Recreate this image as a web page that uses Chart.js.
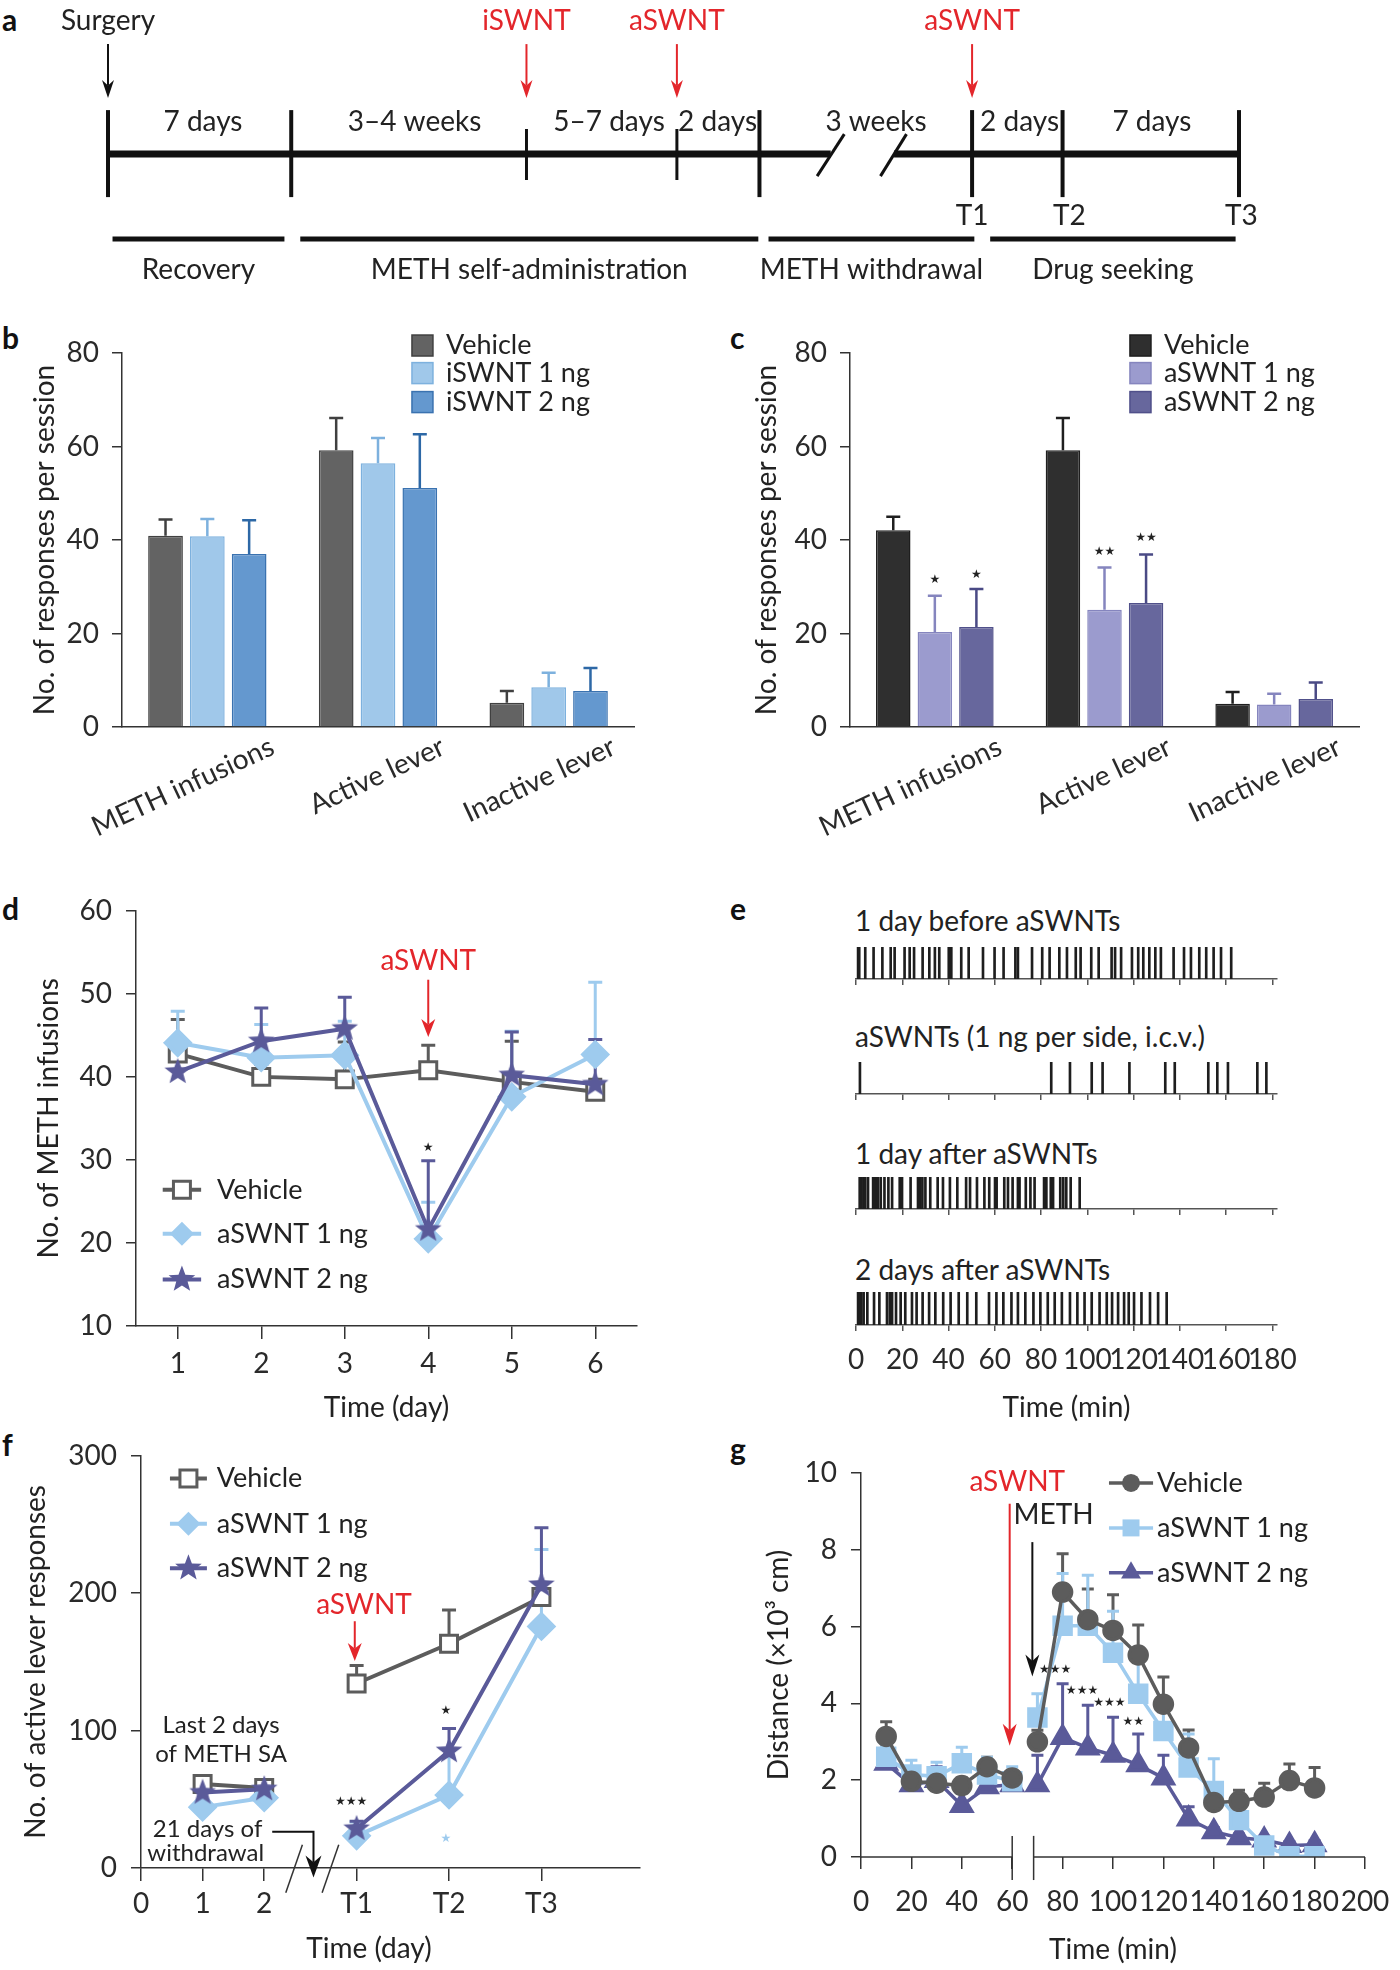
<!DOCTYPE html>
<html lang="en">
<head>
<meta charset="UTF-8">
<title>aSWNT and METH self-administration</title>
<script src="https://cdn.jsdelivr.net/npm/chart.js"></script>
<style>
  body { margin: 0; background: #fff; width: 1400px; height: 1970px; position: relative; overflow: hidden;
         font-family: Lato, "Open Sans", "DejaVu Sans", sans-serif; color: #222; }
  .panel { position: absolute; }
  .letter { position: absolute; font-weight: bold; font-size: 30px; line-height: 34px; color: #111; }
  .rowlabel { position: absolute; font-size: 28px; line-height: 34px; color: #222; white-space: nowrap; }
</style>
</head>
<body>

<div class="letter" style="left:2px;top:2px">a</div>
<div class="letter" style="left:2px;top:320px">b</div>
<div class="letter" style="left:730px;top:320px">c</div>
<div class="letter" style="left:2px;top:891px">d</div>
<div class="letter" style="left:730px;top:891px">e</div>
<div class="letter" style="left:2px;top:1427px">f</div>
<div class="letter" style="left:730px;top:1431px">g</div>

<div class="panel" style="left:0;top:0"><canvas id="chartA" width="1400" height="300"></canvas></div>
<div class="panel" style="left:0;top:320px"><canvas id="chartB" width="660" height="560"></canvas></div>
<div class="panel" style="left:722px;top:320px"><canvas id="chartC" width="678" height="560"></canvas></div>
<div class="panel" style="left:0;top:880px"><canvas id="chartD" width="680" height="560"></canvas></div>

<div class="rowlabel" style="left:855px;top:903px">1 day before aSWNTs</div>
<div class="rowlabel" style="left:855px;top:1019px">aSWNTs (1 ng per side, i.c.v.)</div>
<div class="rowlabel" style="left:855px;top:1136px">1 day after aSWNTs</div>
<div class="rowlabel" style="left:855px;top:1252px">2 days after aSWNTs</div>
<div class="panel" style="left:832px;top:943px"><canvas id="chartE1" width="490" height="48"></canvas></div>
<div class="panel" style="left:832px;top:1058px"><canvas id="chartE2" width="490" height="48"></canvas></div>
<div class="panel" style="left:832px;top:1173px"><canvas id="chartE3" width="490" height="48"></canvas></div>
<div class="panel" style="left:832px;top:1288px"><canvas id="chartE4" width="490" height="152"></canvas></div>

<div class="panel" style="left:0;top:1425px"><canvas id="chartF" width="680" height="545"></canvas></div>
<div class="panel" style="left:735px;top:1440px"><canvas id="chartG" width="675" height="530"></canvas></div>

<script>
// ---- panel a: experiment timeline (schematic units 0-100) ----
const timelineMarks = [0, 16.2, 57.6, 76.4, 84.4, 100];
const injectionMarks = [37.0, 50.3];
const periodLabels = ['7 days', '3–4 weeks', '5–7 days', '2 days', '3 weeks', '2 days', '7 days'];
const periodPos = [8.4, 27.1, 44.3, 53.9, 67.9, 80.6, 92.3];
const eventLabels = ['Surgery', 'iSWNT', 'aSWNT', 'aSWNT'];
const eventPos = [0, 37.0, 50.3, 76.4];
const testLabels = ['T1', 'T2', 'T3'];
const testPos = [76.4, 85.0, 100.2];
const phaseLabels = ['Recovery', 'METH self-administration', 'METH withdrawal', 'Drug seeking'];
const phaseStart = [0.4, 17.0, 58.4, 78.0];
const phaseEnd = [15.6, 57.5, 76.6, 99.7];

// ---- panels b, c: responses per session ----
const leverCategories = ['METH infusions', 'Active lever', 'Inactive lever'];
const bVehicle = [40.9, 59.2, 5.2];
const bVehicleSem = [3.5, 6.9, 2.5];
const bIswnt1 = [40.8, 56.4, 8.5];
const bIswnt1Sem = [3.7, 5.4, 3.1];
const bIswnt2 = [37.0, 51.1, 7.7];
const bIswnt2Sem = [7.2, 11.5, 4.9];

const cVehicle = [42.1, 59.2, 5.0];
const cVehicleSem = [2.9, 6.9, 2.5];
const cAswnt1 = [20.3, 25.1, 4.8];
const cAswnt1Sem = [7.8, 9.0, 2.3];
const cAswnt2 = [21.4, 26.5, 6.0];
const cAswnt2Sem = [8.1, 10.4, 3.5];

// ---- panel d: METH infusions per day ----
const dDays = [1, 2, 3, 4, 5, 6];
const dVehicle = [42.8, 40.0, 39.7, 40.8, 39.4, 38.2];
const dVehicleSem = [4.1, 1.5, 4.5, 3.0, 4.9, 1.5];
const dAswnt1 = [44.1, 42.3, 42.6, 20.5, 37.6, 42.7];
const dAswnt1Sem = [3.8, 4.0, 4.1, 4.4, 7.9, 8.7];
const dAswnt2 = [40.6, 44.3, 45.8, 21.6, 40.2, 39.1];
const dAswnt2Sem = [3.7, 4.0, 3.8, 8.3, 5.2, 5.4];

// ---- panel e: infusion event times (min) ----
const eTicks = [0, 20, 40, 60, 80, 100, 120, 140, 160, 180];
const eBefore = [0.9, 1.4, 4.0, 7.6, 11.4, 15.0, 16.7, 21.0, 23.2, 25.1, 28.8, 31.7, 34.1, 36.0, 40.1, 41.2,
  45.5, 48.7, 54.9, 59.9, 63.8, 68.9, 70.0, 76.1, 80.5, 83.7, 87.9, 91.2, 95.0, 97.1, 101.7, 104.9, 110.5,
  112.0, 114.6, 119.3, 122.0, 124.2, 126.8, 129.4, 131.8, 137.3, 141.8, 144.8, 148.4, 151.4, 154.6, 157.8, 162.2];
const eInjection = [1.7, 84.4, 92.5, 101.9, 106.6, 118.2, 133.7, 137.8, 152.3, 156.2, 160.8, 173.5, 177.4];
const eAfter1 = [1.6, 2.3, 3.2, 4.0, 5.2, 7.4, 7.9, 8.5, 9.1, 9.5, 10.7, 12.3, 14.0, 15.6, 18.9, 19.9, 23.6,
  26.8, 27.7, 28.7, 30.0, 32.1, 35.3, 37.6, 40.6, 43.8, 47.6, 49.3, 52.3, 55.5, 57.6, 60.1, 60.8, 64.1, 65.7,
  67.7, 70.0, 70.7, 73.4, 75.4, 77.2, 81.3, 81.8, 82.3, 84.2, 84.6, 85.2, 88.3, 89.6, 90.9, 92.8, 96.7];
const eAfter2 = [0.9, 1.6, 2.3, 3.3, 4.9, 7.8, 10.1, 13.4, 14.6, 15.6, 17.3, 19.3, 21.3, 24.2, 26.2, 28.8,
  31.6, 34.3, 37.7, 40.9, 44.4, 48.1, 52.0, 57.5, 60.7, 63.7, 67.2, 70.0, 73.2, 76.7, 79.7, 82.9, 85.9, 89.0,
  92.5, 95.7, 98.8, 101.9, 105.3, 108.4, 110.7, 113.3, 115.9, 117.9, 120.2, 123.4, 127.1, 130.6, 134.3];

// ---- panel f: active lever responses ----
const fTickValues = [0, 1, 2, 3.5, 5, 6.5];
const fTickLabels = ['0', '1', '2', 'T1', 'T2', 'T3'];
const fSessions = [1, 2, 3.5, 5, 6.5];
const fVehicle = [61.2, 58.2, 134.3, 163.2, 197.2];
const fVehicleSem = [3, 3, 13.1, 24.5, 10];
const fAswnt1 = [44.3, 51.1, 23.4, 53.1, 175.8];
const fAswnt1Sem = [3, 3, 10.1, 33, 56];
const fAswnt2 = [54.9, 57.4, 28.5, 85.1, 206];
const fAswnt2Sem = [3, 3, 5.5, 16.4, 41.6];

// ---- panel g: locomotor distance (x10^3 cm) ----
const gTimes = [10, 20, 30, 40, 50, 60, 70, 80, 90, 100, 110, 120, 130, 140, 150, 160, 170, 180];
const gVehicle = [3.14, 1.97, 1.92, 1.86, 2.35, 2.06, 3.0, 6.9, 6.18, 5.9, 5.26, 3.98, 2.84, 1.42, 1.45, 1.56, 1.99, 1.80];
const gVehicleSem = [0.38, 0.2, 0.2, 0.2, 0.25, 0.2, 0.3, 1.0, 0.8, 0.93, 0.78, 0.71, 0.47, 0.2, 0.29, 0.36, 0.43, 0.53];
const gAswnt1 = [2.61, 2.15, 2.10, 2.44, 2.15, 1.97, 3.63, 6.02, 6.02, 5.32, 4.25, 3.28, 2.33, 1.72, 0.96, 0.3, 0.02, 0.02];
const gAswnt1Sem = [0.27, 0.37, 0.37, 0.42, 0.45, 0.38, 0.62, 1.36, 1.32, 1.08, 0.98, 0.76, 0.87, 0.84, 0.47, 0.1, 0.05, 0.05];
const gAswnt2 = [2.44, 1.88, 1.99, 1.34, 1.83, 1.88, 1.88, 3.11, 2.84, 2.65, 2.40, 2.06, 0.99, 0.66, 0.50, 0.44, 0.30, 0.32];
const gAswnt2Sem = [0.2, 0.1, 0.36, 0.1, 0.41, 0.1, 0.77, 1.4, 1.11, 0.99, 0.8, 0.59, 0.32, 0.1, 0.1, 0.1, 0.1, 0.1];

// colours
const GRAY = '#5c5c5c';
const LIGHT = '#9ecbee';
const PURPLE = '#5a5a99';
const RED = '#e3262b';
const FONT = 'Lato, "Open Sans", "DejaVu Sans", sans-serif';
const LEGEND_SIZE = 27;

Chart.defaults.font.family = FONT;
Chart.defaults.font.size = 28;
Chart.defaults.color = '#2a2a2a';
Chart.defaults.animation = false;
Chart.defaults.plugins.legend.display = false;
Chart.defaults.plugins.tooltip.enabled = false;

// marker shapes used for legends and the filled star points
function drawMarker(ctx, style, x, y, r, fill, stroke, bw) {
  ctx.save();
  ctx.beginPath();
  if (style === 'rect') {
    const s = r * Math.SQRT1_2;
    ctx.rect(x - s, y - s, 2 * s, 2 * s);
  } else if (style === 'rectRot') {
    ctx.moveTo(x, y - r); ctx.lineTo(x + r, y); ctx.lineTo(x, y + r); ctx.lineTo(x - r, y); ctx.closePath();
  } else if (style === 'circle') {
    ctx.arc(x, y, r, 0, Math.PI * 2);
  } else {
    const n = style === 'triangle' ? 3 : 10;
    for (let k = 0; k < n; k++) {
      const a = k * 2 * Math.PI / n;
      const rr = (style === 'star5' && k % 2) ? r * 0.42 : r;
      const px = x + Math.sin(a) * rr, py = y - Math.cos(a) * rr;
      if (k) ctx.lineTo(px, py); else ctx.moveTo(px, py);
    }
    ctx.closePath();
  }
  if (fill) { ctx.fillStyle = fill; ctx.fill(); }
  if (stroke && bw) { ctx.strokeStyle = stroke; ctx.lineWidth = bw; ctx.stroke(); }
  ctx.restore();
}

function markerImage(style, r, fill) {
  const c = document.createElement('canvas');
  const size = Math.ceil(2 * r + 2);
  c.width = size; c.height = size;
  drawMarker(c.getContext('2d'), style, size / 2, size / 2, r, fill);
  return c;
}

// one-sided (upward) SEM bars, drawn behind the marks
const errorBars = {
  id: 'errorBars',
  beforeDatasetsDraw(chart) {
    const ctx = chart.ctx, sy = chart.scales.y;
    chart.data.datasets.forEach((ds, di) => {
      if (!ds.errColor) return;
      chart.getDatasetMeta(di).data.forEach((el, i) => {
        const raw = ds.data[i];
        const v = typeof raw === 'number' ? raw : raw && raw.y;
        const s = ds.sem ? ds.sem[i] : raw && raw.sem;
        if (v == null || s == null) return;
        const y0 = sy.getPixelForValue(v), y1 = sy.getPixelForValue(v + s);
        const cap = ds.errCap || 7;
        ctx.save();
        ctx.strokeStyle = ds.errColor;
        ctx.lineWidth = ds.errWidth || 3;
        ctx.beginPath();
        ctx.moveTo(el.x, y0); ctx.lineTo(el.x, y1);
        ctx.moveTo(el.x - cap, y1); ctx.lineTo(el.x + cap, y1);
        ctx.stroke();
        ctx.restore();
      });
    });
  }
};
Chart.register(errorBars);

// annotations placed in data coordinates
function overlay(items) {
  return {
    id: 'overlay',
    afterDatasetsDraw(chart) {
      const ctx = chart.ctx, sx = chart.scales.x, sy = chart.scales.y;
      const X = v => sx.getPixelForValue(v), Y = v => sy.getPixelForValue(v);
      items.forEach(it => {
        ctx.save();
        if (it.type === 'seg') {
          ctx.strokeStyle = it.color || '#111';
          ctx.lineWidth = it.width || 2;
          ctx.beginPath(); ctx.moveTo(X(it.x1), Y(it.y1)); ctx.lineTo(X(it.x2), Y(it.y2)); ctx.stroke();
        } else if (it.type === 'arrow') {
          const p = it.pts.map(q => [X(q[0]), Y(q[1])]);
          const h = it.head || 18, w = it.headW || 6, n = p.length;
          const [ax, ay] = p[n - 2], [bx, by] = p[n - 1];
          const ang = Math.atan2(by - ay, bx - ax);
          const ex = bx - Math.cos(ang) * h, ey = by - Math.sin(ang) * h;
          const nx = bx - Math.cos(ang) * h * 0.7, ny = by - Math.sin(ang) * h * 0.7;
          ctx.strokeStyle = it.color; ctx.lineWidth = it.width || 2;
          ctx.beginPath(); ctx.moveTo(p[0][0], p[0][1]);
          for (let k = 1; k < n - 1; k++) ctx.lineTo(p[k][0], p[k][1]);
          ctx.lineTo(nx, ny); ctx.stroke();
          ctx.fillStyle = it.color; ctx.beginPath();
          ctx.moveTo(bx, by);
          ctx.lineTo(ex - Math.sin(ang) * w, ey + Math.cos(ang) * w);
          ctx.lineTo(nx, ny);
          ctx.lineTo(ex + Math.sin(ang) * w, ey - Math.cos(ang) * w);
          ctx.closePath(); ctx.fill();
        } else if (it.type === 'text') {
          ctx.font = (it.weight || 'normal') + ' ' + (it.size || 28) + 'px ' + FONT;
          ctx.fillStyle = it.color || '#222';
          ctx.textAlign = it.align || 'center';
          ctx.textBaseline = 'middle';
          ctx.fillText(it.text, X(it.x), Y(it.y));
        } else if (it.type === 'legend') {
          const y = Y(it.y), x1 = X(it.x1), x2 = X(it.x2);
          ctx.strokeStyle = it.color; ctx.lineWidth = it.lw || 4;
          ctx.beginPath(); ctx.moveTo(x1, y); ctx.lineTo(x2, y); ctx.stroke();
          drawMarker(ctx, it.style, (x1 + x2) / 2, y, it.r, it.fill, it.stroke, it.bw);
          ctx.font = LEGEND_SIZE + 'px ' + FONT; ctx.fillStyle = '#222';
          ctx.textAlign = 'left'; ctx.textBaseline = 'middle';
          ctx.fillText(it.text, X(it.xt), y);
        } else if (it.type === 'swatch') {
          const y = Y(it.y), x1 = X(it.x1), s = X(it.x2) - x1;
          ctx.fillStyle = it.fill; ctx.fillRect(x1, y - s / 2, s, s);
          ctx.strokeStyle = it.stroke; ctx.lineWidth = 1.5; ctx.strokeRect(x1, y - s / 2, s, s);
          ctx.font = LEGEND_SIZE + 'px ' + FONT; ctx.fillStyle = '#222';
          ctx.textAlign = 'left'; ctx.textBaseline = 'middle';
          ctx.fillText(it.text, X(it.xt), y);
        }
        ctx.restore();
      });
    }
  };
}

function series(xs, ys, sems, gapAfter) {
  const out = [];
  xs.forEach((x, i) => {
    out.push({ x: x, y: ys[i], sem: sems[i] });
    if (i === gapAfter) out.push({ x: (x + xs[i + 1]) / 2, y: null });
  });
  return out;
}

function yAxis(min, max, step, title, width, pad) {
  return {
    type: 'linear', min: min, max: max,
    ticks: { stepSize: step, padding: pad, color: '#2a2a2a' },
    grid: { drawOnChartArea: false, tickLength: 10, color: '#333', lineWidth: 1.5 },
    border: { color: '#333', width: 1.5 },
    title: { display: true, text: title, color: '#222', padding: { top: 4, bottom: 0 } },
    afterFit: s => { s.width = width; }
  };
}

// ---------- panel a ----------
const TL_Y = 51.3;
const aItems = [];
timelineMarks.forEach(x => aItems.push({ type: 'seg', x1: x, y1: 36.7, x2: x, y2: 65.7, width: 4 }));
injectionMarks.forEach(x => aItems.push({ type: 'seg', x1: x, y1: 43, x2: x, y2: 60, width: 3 }));
aItems.push({ type: 'seg', x1: 62.7, y1: 58.7, x2: 65.1, y2: 44.7, width: 3 });
aItems.push({ type: 'seg', x1: 68.3, y1: 58.7, x2: 70.6, y2: 44.7, width: 3 });
periodLabels.forEach((t, i) => aItems.push({ type: 'text', x: periodPos[i], y: 40.6, text: t }));
eventLabels.forEach((t, i) => {
  const col = i === 0 ? '#111' : RED;
  aItems.push({ type: 'text', x: eventPos[i], y: 7, text: t, color: i === 0 ? '#222' : RED });
  aItems.push({ type: 'arrow', pts: [[eventPos[i], 14.7], [eventPos[i], 32.7]], color: col, width: 2, head: 18, headW: 6 });
});
testLabels.forEach((t, i) => aItems.push({ type: 'text', x: testPos[i], y: 72, text: t }));
phaseLabels.forEach((t, i) => {
  aItems.push({ type: 'seg', x1: phaseStart[i], y1: 79.7, x2: phaseEnd[i], y2: 79.7, width: 5 });
  aItems.push({ type: 'text', x: (phaseStart[i] + phaseEnd[i]) / 2, y: 90, text: t });
});

new Chart(document.getElementById('chartA'), {
  type: 'line',
  data: {
    datasets: [
      { data: [{ x: timelineMarks[0], y: TL_Y }, { x: 63.9, y: TL_Y }], borderColor: '#111', borderWidth: 7, pointRadius: 0 },
      { data: [{ x: 69.5, y: TL_Y }, { x: timelineMarks[timelineMarks.length - 1], y: TL_Y }], borderColor: '#111', borderWidth: 7, pointRadius: 0 }
    ]
  },
  options: {
    responsive: false,
    layout: { padding: { left: 108, right: 161, top: 0, bottom: 0 } },
    scales: {
      x: { type: 'linear', min: 0, max: 100, display: false },
      y: { type: 'linear', min: 0, max: 100, reverse: true, display: false }
    }
  },
  plugins: [overlay(aItems)]
});

// ---------- panels b and c ----------
function barPanel(id, sets, ywidth, rightPad, items) {
  return new Chart(document.getElementById(id), {
    type: 'bar',
    data: {
      labels: leverCategories,
      datasets: sets.map(s => ({
        label: s.label, data: s.data, sem: s.sem,
        backgroundColor: s.fill, borderColor: s.stroke, borderWidth: 1.5,
        errColor: s.err, errCap: 7, errWidth: 2.5,
        categoryPercentage: 0.735, barPercentage: 0.83
      }))
    },
    options: {
      responsive: false,
      layout: { padding: { left: 24, top: 33, right: rightPad, bottom: 0 } },
      scales: {
        x: {
          grid: { drawOnChartArea: false, drawTicks: false },
          border: { color: '#333', width: 1.5 },
          ticks: { minRotation: 25, maxRotation: 25, labelOffset: 65, padding: 3, autoSkip: false, color: '#2a2a2a' },
          afterFit: s => { s.height = 153; }
        },
        y: yAxis(0, 80, 20, 'No. of responses per session', ywidth, 13)
      }
    },
    plugins: [overlay(items)]
  });
}

barPanel('chartB', [
  { label: 'Vehicle', data: bVehicle, sem: bVehicleSem, fill: '#636363', stroke: '#404040', err: '#404040' },
  { label: 'iSWNT 1 ng', data: bIswnt1, sem: bIswnt1Sem, fill: '#a0c8ea', stroke: '#7db1de', err: '#7db1de' },
  { label: 'iSWNT 2 ng', data: bIswnt2, sem: bIswnt2Sem, fill: '#6498cf', stroke: '#3a72b0', err: '#2d68a6' }
], 98, 26, [
  { type: 'swatch', x1: 1.199, x2: 1.322, xt: 1.398, y: 81.6, text: 'Vehicle', fill: '#636363', stroke: '#404040' },
  { type: 'swatch', x1: 1.199, x2: 1.322, xt: 1.398, y: 75.7, text: 'iSWNT 1 ng', fill: '#a0c8ea', stroke: '#7db1de' },
  { type: 'swatch', x1: 1.199, x2: 1.322, xt: 1.398, y: 69.5, text: 'iSWNT 2 ng', fill: '#6498cf', stroke: '#3a72b0' }
]);

barPanel('chartC', [
  { label: 'Vehicle', data: cVehicle, sem: cVehicleSem, fill: '#2f2f2f', stroke: '#1f1f1f', err: '#1f1f1f' },
  { label: 'aSWNT 1 ng', data: cAswnt1, sem: cAswnt1Sem, fill: '#9b9bce', stroke: '#8585be', err: '#8585be' },
  { label: 'aSWNT 2 ng', data: cAswnt2, sem: cAswnt2Sem, fill: '#67679d', stroke: '#50508a', err: '#4a4a85' }
], 104, 41, [
  { type: 'swatch', x1: 1.15, x2: 1.274, xt: 1.35, y: 81.6, text: 'Vehicle', fill: '#2f2f2f', stroke: '#1f1f1f' },
  { type: 'swatch', x1: 1.15, x2: 1.274, xt: 1.35, y: 75.7, text: 'aSWNT 1 ng', fill: '#9b9bce', stroke: '#8585be' },
  { type: 'swatch', x1: 1.15, x2: 1.274, xt: 1.35, y: 69.5, text: 'aSWNT 2 ng', fill: '#67679d', stroke: '#50508a' },
  { type: 'text', x: 0, y: 31.6, text: '★', size: 12 },
  { type: 'text', x: 0.245, y: 32.7, text: '★', size: 12 },
  { type: 'text', x: 1, y: 37.7, text: '★★', size: 12 },
  { type: 'text', x: 1.245, y: 40.7, text: '★★', size: 12 }
]);

// ---------- panel d ----------
const starImg = markerImage('star5', 14, PURPLE);
new Chart(document.getElementById('chartD'), {
  type: 'line',
  data: {
    datasets: [
      { label: 'Vehicle', data: series(dDays, dVehicle, dVehicleSem), borderColor: GRAY, borderWidth: 4,
        pointStyle: 'rect', pointRadius: 12, pointBackgroundColor: '#fff', pointBorderColor: GRAY, pointBorderWidth: 3,
        errColor: GRAY, order: 3 },
      { label: 'aSWNT 1 ng', data: series(dDays, dAswnt1, dAswnt1Sem), borderColor: LIGHT, borderWidth: 4,
        pointStyle: 'rectRot', pointRadius: 12, pointBackgroundColor: LIGHT, pointBorderColor: LIGHT,
        errColor: LIGHT, order: 2 },
      { label: 'aSWNT 2 ng', data: series(dDays, dAswnt2, dAswnt2Sem), borderColor: PURPLE, borderWidth: 4,
        pointStyle: starImg, pointRadius: 14, errColor: PURPLE, order: 1 }
    ]
  },
  options: {
    responsive: false,
    layout: { padding: { left: 28, top: 28, right: 43, bottom: 0 } },
    scales: {
      x: {
        type: 'linear', min: 0.5, max: 6.5,
        afterBuildTicks: s => { s.ticks = dDays.map(v => ({ value: v })); },
        ticks: { padding: 8, autoSkip: false, maxRotation: 0, minRotation: 0, color: '#2a2a2a' },
        grid: { drawOnChartArea: false, tickLength: 13, color: '#333', lineWidth: 1.5 },
        border: { color: '#333', width: 1.5 },
        title: { display: true, text: 'Time (day)', color: '#222', padding: { top: 0, bottom: 15 } },
        afterFit: s => { s.height = 114; }
      },
      y: yAxis(10, 60, 10, 'No. of METH infusions', 108, 14)
    }
  },
  plugins: [overlay([
    { type: 'text', x: 4, y: 54.0, text: 'aSWNT', color: RED },
    { type: 'arrow', pts: [[4, 51.7], [4, 44.8]], color: RED, width: 2, head: 18, headW: 7 },
    { type: 'text', x: 4, y: 31.5, text: '★', size: 12 },
    { type: 'legend', x1: 0.82, x2: 1.28, xt: 1.47, y: 26.4, text: 'Vehicle', color: GRAY, style: 'rect', r: 12, fill: '#fff', stroke: GRAY, bw: 3 },
    { type: 'legend', x1: 0.82, x2: 1.28, xt: 1.47, y: 21.1, text: 'aSWNT 1 ng', color: LIGHT, style: 'rectRot', r: 12, fill: LIGHT },
    { type: 'legend', x1: 0.82, x2: 1.28, xt: 1.47, y: 15.6, text: 'aSWNT 2 ng', color: PURPLE, style: 'star5', r: 14, fill: PURPLE }
  ])]
});

// ---------- panel e ----------
function rasterChart(id, events, last) {
  return new Chart(document.getElementById(id), {
    type: 'bar',
    data: { datasets: [{ data: events.map(t => ({ x: t, y: 1 })), backgroundColor: '#1e1e1e', barThickness: 2, borderWidth: 0 }] },
    options: {
      responsive: false,
      layout: { padding: { left: 24, right: 45, top: 4, bottom: 0 } },
      scales: {
        x: {
          type: 'linear', min: 0, max: 182, offset: false,
          afterBuildTicks: s => { s.ticks = eTicks.map(v => ({ value: v })); },
          grid: { drawOnChartArea: false, drawTicks: true, tickLength: 6, color: '#555', offset: false, lineWidth: 1.5 },
          border: { color: '#555', width: 1.5 },
          ticks: { display: last, autoSkip: false, maxRotation: 0, minRotation: 0, padding: 12, color: '#2a2a2a' },
          title: { display: last, text: 'Time (min)', color: '#222', padding: { top: 0, bottom: 15 } },
          afterFit: s => { s.height = last ? 115 : 12; }
        },
        y: { display: false, min: 0, max: 1 }
      }
    }
  });
}
rasterChart('chartE1', eBefore, false);
rasterChart('chartE2', eInjection, false);
rasterChart('chartE3', eAfter1, false);
rasterChart('chartE4', eAfter2, true);

// ---------- panel f ----------
const starImgF = markerImage('star5', 14, PURPLE);
new Chart(document.getElementById('chartF'), {
  type: 'line',
  data: {
    datasets: [
      { label: 'Vehicle', data: series(fSessions, fVehicle, fVehicleSem, 1), borderColor: GRAY, borderWidth: 4,
        pointStyle: 'rect', pointRadius: 12, pointBackgroundColor: '#fff', pointBorderColor: GRAY, pointBorderWidth: 3,
        errColor: GRAY, order: 3 },
      { label: 'aSWNT 1 ng', data: series(fSessions, fAswnt1, fAswnt1Sem, 1), borderColor: LIGHT, borderWidth: 4,
        pointStyle: 'rectRot', pointRadius: 12, pointBackgroundColor: LIGHT, pointBorderColor: LIGHT,
        errColor: LIGHT, order: 2 },
      { label: 'aSWNT 2 ng', data: series(fSessions, fAswnt2, fAswnt2Sem, 1), borderColor: PURPLE, borderWidth: 4,
        pointStyle: starImgF, pointRadius: 14, errColor: PURPLE, order: 1 }
    ]
  },
  options: {
    responsive: false,
    layout: { padding: { left: 15, top: 25, right: 40, bottom: 0 } },
    scales: {
      x: {
        type: 'linear', min: 0, max: 8.1,
        afterBuildTicks: s => { s.ticks = fTickValues.map(v => ({ value: v })); },
        ticks: { padding: 6, autoSkip: false, maxRotation: 0, minRotation: 0, color: '#2a2a2a',
                 callback: (v, i) => fTickLabels[i] },
        grid: { drawOnChartArea: false, tickLength: 13, color: '#333', lineWidth: 1.5 },
        border: { color: '#333', width: 1.5 },
        afterFit: s => { s.height = 102; }
      },
      y: yAxis(0, 300, 100, 'No. of active lever responses', 126, 14)
    }
  },
  plugins: [overlay([
    { type: 'text', x: 3.7, y: -59, text: 'Time (day)' },
    { type: 'text', x: 1.3, y: 104, text: 'Last 2 days', size: 24 },
    { type: 'text', x: 1.3, y: 82.6, text: 'of METH SA', size: 24 },
    { type: 'text', x: 1.08, y: 28.5, text: '21 days of', size: 24 },
    { type: 'text', x: 1.05, y: 10.8, text: 'withdrawal', size: 24 },
    { type: 'arrow', pts: [[2.13, 26.4], [2.8, 26.4], [2.8, -7]], color: '#111', width: 2, head: 22, headW: 8 },
    { type: 'seg', x1: 2.62, y1: 17, x2: 2.35, y2: -18, width: 1.5, color: '#333' },
    { type: 'seg', x1: 3.21, y1: 17, x2: 2.94, y2: -18, width: 1.5, color: '#333' },
    { type: 'text', x: 3.62, y: 191.7, text: 'aSWNT', color: RED },
    { type: 'arrow', pts: [[3.47, 179.6], [3.47, 150.6]], color: RED, width: 2, head: 18, headW: 7 },
    { type: 'text', x: 3.41, y: 48.6, text: '★★★', size: 12 },
    { type: 'text', x: 4.95, y: 114.6, text: '★', size: 12 },
    { type: 'text', x: 4.95, y: 21.7, text: '★', size: 12, color: LIGHT },
    { type: 'legend', x1: 0.47, x2: 1.07, xt: 1.23, y: 283.5, text: 'Vehicle', color: GRAY, style: 'rect', r: 12, fill: '#fff', stroke: GRAY, bw: 3 },
    { type: 'legend', x1: 0.47, x2: 1.07, xt: 1.23, y: 250.5, text: 'aSWNT 1 ng', color: LIGHT, style: 'rectRot', r: 12, fill: LIGHT },
    { type: 'legend', x1: 0.47, x2: 1.07, xt: 1.23, y: 218.2, text: 'aSWNT 2 ng', color: PURPLE, style: 'star5', r: 14, fill: PURPLE }
  ])]
});

// ---------- panel g ----------
new Chart(document.getElementById('chartG'), {
  type: 'line',
  data: {
    datasets: [
      { label: 'Vehicle', data: series(gTimes, gVehicle, gVehicleSem, 5), borderColor: GRAY, borderWidth: 3.5,
        pointStyle: 'circle', pointRadius: 9, pointBackgroundColor: GRAY, pointBorderColor: GRAY, errColor: GRAY, errCap: 6 },
      { label: 'aSWNT 1 ng', data: series(gTimes, gAswnt1, gAswnt1Sem, 5), borderColor: LIGHT, borderWidth: 3.5,
        pointStyle: 'rect', pointRadius: 12, pointBackgroundColor: LIGHT, pointBorderColor: LIGHT, errColor: LIGHT, errCap: 6 },
      { label: 'aSWNT 2 ng', data: series(gTimes, gAswnt2, gAswnt2Sem, 5), borderColor: PURPLE, borderWidth: 3.5,
        pointStyle: 'triangle', pointRadius: 11.5, pointBackgroundColor: PURPLE, pointBorderColor: PURPLE, errColor: PURPLE, errCap: 6 }
    ]
  },
  options: {
    responsive: false,
    layout: { padding: { left: 23, top: 33, right: 45, bottom: 0 } },
    scales: {
      x: {
        type: 'linear', min: 0, max: 200,
        ticks: { stepSize: 20, padding: 16, autoSkip: false, maxRotation: 0, minRotation: 0, color: '#2a2a2a' },
        grid: { drawOnChartArea: false, tickLength: 12, color: '#333', lineWidth: 1.5 },
        border: { display: false },
        title: { display: true, text: 'Time (min)', color: '#222', padding: { top: 0, bottom: 3 } },
        afterFit: s => { s.height = 113; }
      },
      y: yAxis(0, 10, 2, 'Distance (×10³ cm)', 103, 14)
    }
  },
  plugins: [overlay([
    { type: 'seg', x1: 0, y1: 0, x2: 60, y2: 0, width: 1.5, color: '#333' },
    { type: 'seg', x1: 68.5, y1: 0, x2: 200, y2: 0, width: 1.5, color: '#333' },
    { type: 'seg', x1: 60, y1: 0.55, x2: 60, y2: -0.6, width: 1.5, color: '#333' },
    { type: 'seg', x1: 68.5, y1: 0.55, x2: 68.5, y2: -0.6, width: 1.5, color: '#333' },
    { type: 'text', x: 62, y: 9.77, text: 'aSWNT', color: RED },
    { type: 'arrow', pts: [[59, 9.2], [59, 2.9]], color: RED, width: 2, head: 22, headW: 7 },
    { type: 'text', x: 60.5, y: 8.9, text: 'METH', align: 'left' },
    { type: 'arrow', pts: [[68, 8.2], [68, 4.7]], color: '#111', width: 2, head: 22, headW: 7 },
    { type: 'text', x: 77, y: 4.9, text: '★★★', size: 12 },
    { type: 'text', x: 87.7, y: 4.35, text: '★★★', size: 12 },
    { type: 'text', x: 98.6, y: 4.03, text: '★★★', size: 12 },
    { type: 'text', x: 108, y: 3.54, text: '★★', size: 12 },
    { type: 'legend', x1: 98.4, x2: 115.9, xt: 117.5, y: 9.74, text: 'Vehicle', color: GRAY, style: 'circle', r: 9, fill: GRAY, lw: 3.5 },
    { type: 'legend', x1: 98.4, x2: 115.9, xt: 117.5, y: 8.57, text: 'aSWNT 1 ng', color: LIGHT, style: 'rect', r: 12, fill: LIGHT, lw: 3.5 },
    { type: 'legend', x1: 98.4, x2: 115.9, xt: 117.5, y: 7.40, text: 'aSWNT 2 ng', color: PURPLE, style: 'triangle', r: 11.5, fill: PURPLE, lw: 3.5 }
  ])]
});
</script>
</body>
</html>
